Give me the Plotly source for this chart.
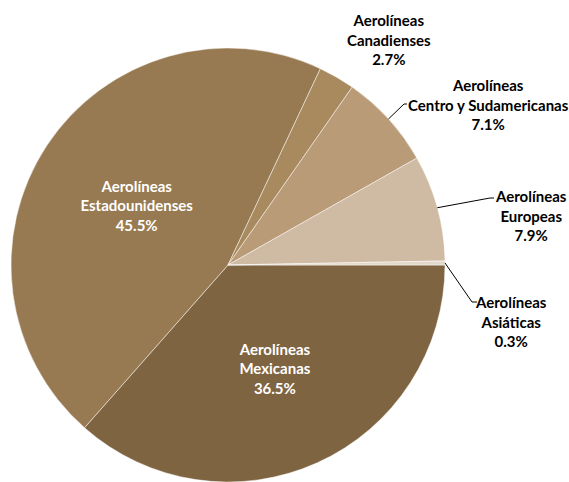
import math
import plotly.graph_objects as go

categories = ["Aerolíneas<br>Mexicanas", "Aerolíneas<br>Estadounidenses", "Aerolíneas<br>Canadienses",
              "Aerolíneas<br>Centro y Sudamericanas", "Aerolíneas<br>Europeas", "Aerolíneas<br>Asiáticas"]
values = [36.5, 45.5, 2.7, 7.1, 7.9, 0.3]
colors = ["#7f6442", "#977a51", "#a88a5e", "#b99b77", "#cfbaa3", "#e3d9ca"]
positions = ["inside", "inside", "none", "none", "none", "none"]

W, H = 569, 482
CX, CY, R = 228, 265, 217  # pie centre / radius in pixels
ROTATION = 90  # first slice starts at 3 o'clock

# label layout for the outside labels (pixel positions of text centre, leader elbow points)
outside_layout = {
    2: dict(text_xy=(389, 39), elbow=None),
    3: dict(text_xy=(488, 104), elbow=[(404, 104), (407, 104)]),
    4: dict(text_xy=(531, 216), elbow=[(490, 198), (494, 198)]),
    5: dict(text_xy=(511, 321), elbow=[(472, 302), (477, 302)]),
}

fig = go.Figure(go.Pie(
    labels=categories,
    values=values,
    sort=False,
    direction="clockwise",
    rotation=ROTATION,
    marker=dict(colors=colors, line=dict(color="rgba(255,255,255,0.6)", width=0.8)),
    texttemplate="%{label}<br>%{value:.1f}%",
    textposition=positions,
    insidetextorientation="horizontal",
    textfont=dict(family="Lato", size=15, color="white", weight="bold"),
    domain=dict(x=[(CX - R) / W, (CX + R) / W], y=[1 - (CY + R) / H, 1 - (CY - R) / H]),
    showlegend=False,
    hoverinfo="label+value",
))

def px2paper(x, y):
    return x / W, 1 - y / H

total = sum(values)
cum = 0.0
shapes, annotations = [], []
for i, v in enumerate(values):
    mid = cum + v / 2
    cum += v
    if i not in outside_layout:
        continue
    ang = math.radians(ROTATION - 90 - 360 * mid / total)  # CCW from east
    ex, ey = CX + R * math.cos(ang), CY - R * math.sin(ang)
    lay = outside_layout[i]
    if lay["elbow"]:
        pts = [(ex, ey)] + lay["elbow"]
        path = "M " + " L ".join(f"{px2paper(x, y)[0]},{px2paper(x, y)[1]}" for x, y in pts)
        shapes.append(dict(type="path", path=path, xref="paper", yref="paper",
                           line=dict(color="black", width=1)))
    tx, ty = px2paper(*lay["text_xy"])
    annotations.append(dict(
        x=tx, y=ty, xref="paper", yref="paper", showarrow=False,
        text=f"{categories[i]}<br>{v:.1f}%", align="center",
        xanchor="center", yanchor="middle",
        font=dict(family="Lato", size=15, color="black", weight="bold"),
    ))

fig.update_layout(
    width=W, height=H,
    margin=dict(l=0, r=0, t=0, b=0),
    paper_bgcolor="white",
    plot_bgcolor="white",
    shapes=shapes,
    annotations=annotations,
)

fig.write_html("out.html", config={"displayModeBar": False},
               post_script="document.body.style.margin='0';document.body.style.overflow='hidden';")
